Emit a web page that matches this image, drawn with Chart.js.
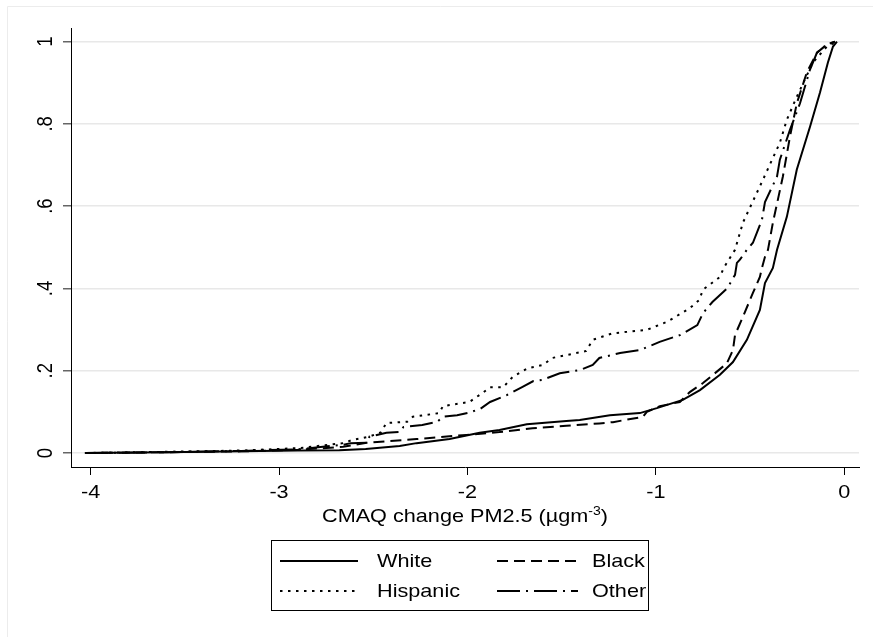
<!DOCTYPE html>
<html>
<head>
<meta charset="utf-8">
<title>CMAQ change PM2.5 by race</title>
<script src="https://cdn.jsdelivr.net/npm/chart.js@4.4.1/dist/chart.umd.min.js"></script>
<style>
  html, body { margin: 0; padding: 0; background: #fff; }
  #wrap { width: 873px; height: 637px; }
</style>
</head>
<body>
<div id="wrap"><canvas id="cdfChart" width="873" height="637"></canvas></div>
<script>
// tick values / labels
const xTicks = [-4, -3, -2, -1, 0];
const xTickLabels = ['-4', '-3', '-2', '-1', '0'];
const yTicks = [0, 0.2, 0.4, 0.6, 0.8, 1];
const yTickLabels = ['0', '.2', '.4', '.6', '.8', '1'];
const seriesNames = ['White', 'Black', 'Hispanic', 'Other'];

// cumulative share of population vs. change in PM2.5
const whiteX = [-4.03, -3.6, -3.2, -2.9, -2.68, -2.54, -2.36, -2.27, -2.095, -1.935, -1.83, -1.685, -1.475, -1.404, -1.244, -1.085, -0.995, -0.857, -0.766, -0.66, -0.591, -0.517, -0.448, -0.421, -0.379, -0.357, -0.305, -0.252, -0.182, -0.129, -0.087, -0.06, -0.039];
const whiteY = [0, 0.002, 0.004, 0.006, 0.007, 0.01, 0.017, 0.024, 0.034, 0.049, 0.056, 0.07, 0.078, 0.08, 0.092, 0.097, 0.109, 0.129, 0.153, 0.19, 0.221, 0.275, 0.348, 0.413, 0.45, 0.494, 0.574, 0.689, 0.793, 0.876, 0.949, 0.988, 1];

const blackX = [-4.03, -3.6, -3.2, -2.9, -2.66, -2.535, -2.27, -2.005, -1.83, -1.655, -1.475, -1.30, -1.228, -1.069, -1.048, -0.979, -0.873, -0.82, -0.75, -0.697, -0.623, -0.591, -0.58, -0.538, -0.485, -0.448, -0.437, -0.421, -0.405, -0.379, -0.326, -0.288, -0.252, -0.199, -0.145, -0.092, -0.05];
const blackY = [0, 0.002, 0.004, 0.008, 0.015, 0.025, 0.034, 0.044, 0.051, 0.06, 0.066, 0.072, 0.075, 0.088, 0.1, 0.114, 0.124, 0.148, 0.17, 0.19, 0.218, 0.25, 0.287, 0.331, 0.389, 0.428, 0.45, 0.477, 0.494, 0.56, 0.672, 0.77, 0.85, 0.925, 0.973, 0.993, 1];

const hispanicX = [-4.03, -3.6, -3.2, -2.89, -2.66, -2.61, -2.52, -2.46, -2.43, -2.32, -2.29, -2.15, -2.13, -1.99, -1.92, -1.88, -1.81, -1.76, -1.68, -1.60, -1.55, -1.40, -1.37, -1.335, -1.23, -1.05, -0.94, -0.82, -0.77, -0.75, -0.66, -0.64, -0.58, -0.538, -0.432, -0.342, -0.305, -0.252, -0.167, -0.092, -0.039];
const hispanicY = [0, 0.003, 0.006, 0.012, 0.024, 0.032, 0.04, 0.05, 0.073, 0.076, 0.088, 0.097, 0.114, 0.124, 0.146, 0.16, 0.16, 0.185, 0.206, 0.214, 0.231, 0.245, 0.248, 0.275, 0.291, 0.299, 0.319, 0.352, 0.372, 0.397, 0.428, 0.45, 0.494, 0.56, 0.664, 0.754, 0.81, 0.866, 0.949, 0.988, 1];

const otherX = [-4.03, -3.6, -3.2, -2.9, -2.66, -2.62, -2.53, -2.52, -2.43, -2.36, -2.34, -2.24, -2.16, -2.13, -2.055, -1.99, -1.93, -1.88, -1.79, -1.71, -1.65, -1.60, -1.51, -1.40, -1.335, -1.30, -1.19, -1.085, -0.98, -0.87, -0.78, -0.75, -0.70, -0.62, -0.58, -0.57, -0.554, -0.517, -0.485, -0.437, -0.421, -0.357, -0.342, -0.288, -0.235, -0.182, -0.145, -0.092, -0.05];
const otherY = [0, 0.002, 0.005, 0.009, 0.02, 0.024, 0.025, 0.04, 0.049, 0.051, 0.063, 0.068, 0.076, 0.088, 0.092, 0.098, 0.108, 0.124, 0.141, 0.16, 0.175, 0.178, 0.194, 0.202, 0.214, 0.231, 0.243, 0.25, 0.27, 0.287, 0.311, 0.34, 0.367, 0.401, 0.433, 0.462, 0.47, 0.494, 0.511, 0.567, 0.61, 0.672, 0.713, 0.786, 0.85, 0.932, 0.973, 0.993, 1];

const toPoints = (xs, ys) => xs.map((x, i) => ({ x: x, y: ys[i] }));

// Stata text is a bit wider than Arial, so stretch it sideways
const FONT = '18.5px "Liberation Sans", Arial, sans-serif';
const SUP_FONT = '12px "Liberation Sans", Arial, sans-serif';
const STRETCH = 1.17;

const putText = (ctx, str, x, y, align, font, rotated) => {
  ctx.save();
  ctx.translate(x, y);
  if (rotated) {
    ctx.rotate(-Math.PI / 2);
    ctx.scale(1, STRETCH);
  } else {
    ctx.scale(STRETCH, 1);
  }
  ctx.font = font || FONT;
  ctx.textAlign = align;
  ctx.textBaseline = 'alphabetic';
  ctx.fillStyle = '#000';
  ctx.fillText(str, 0, 0);
  ctx.restore();
};

const textWidth = (ctx, str, font) => {
  ctx.save();
  ctx.font = font || FONT;
  const w = ctx.measureText(str).width * STRETCH;
  ctx.restore();
  return w;
};

const stataDecor = {
  id: 'stataDecor',
  beforeDraw(chart) {
    const ctx = chart.ctx;
    ctx.save();
    ctx.fillStyle = '#fff';
    ctx.fillRect(0, 0, chart.width, chart.height);
    // graph region frame
    ctx.strokeStyle = '#ececec';
    ctx.lineWidth = 1;
    ctx.beginPath();
    ctx.moveTo(7.5, chart.height);
    ctx.lineTo(7.5, 6.5);
    ctx.lineTo(chart.width, 6.5);
    ctx.stroke();
    ctx.restore();
  },
  afterDraw(chart) {
    const ctx = chart.ctx;
    const xs = chart.scales.x;
    const ys = chart.scales.y;

    // tick labels
    yTicks.forEach((v, i) => putText(ctx, yTickLabels[i], 52, ys.getPixelForValue(v), 'center', FONT, true));
    xTicks.forEach((v, i) => putText(ctx, xTickLabels[i], xs.getPixelForValue(v), 498, 'center'));

    // axis title with superscript
    const main = 'CMAQ change PM2.5 (\u00b5gm';
    const sup = '-3';
    const close = ')';
    const wMain = textWidth(ctx, main);
    const wSup = textWidth(ctx, sup, SUP_FONT);
    const wClose = textWidth(ctx, close);
    const cx = (chart.chartArea.left + chart.chartArea.right) / 2;
    let tx = cx - (wMain + wSup + wClose) / 2;
    putText(ctx, main, tx, 522, 'left');
    tx += wMain;
    putText(ctx, sup, tx, 515, 'left', SUP_FONT);
    tx += wSup;
    putText(ctx, close, tx, 522, 'left');

    // legend
    ctx.save();
    ctx.strokeStyle = '#000';
    ctx.lineWidth = 1;
    ctx.strokeRect(271.5, 540.5, 377, 70);
    ctx.restore();

    const colLine = [[280, 358], [497, 578]];
    const colText = [377, 592];
    const rowY = [561, 591];
    chart.data.datasets.forEach((ds, i) => {
      const col = i % 2;
      const row = Math.floor(i / 2);
      ctx.save();
      ctx.strokeStyle = ds.borderColor;
      ctx.lineWidth = ds.borderWidth;
      ctx.setLineDash(ds.borderDash || []);
      ctx.beginPath();
      ctx.moveTo(colLine[col][0], rowY[row]);
      ctx.lineTo(colLine[col][1], rowY[row]);
      ctx.stroke();
      ctx.restore();
      putText(ctx, ds.label, colText[col], rowY[row] + 6, 'left');
    });
  }
};

const ctx = document.getElementById('cdfChart');

const cdfChart = new Chart(ctx, {
  type: 'line',
  data: {
    datasets: [
      { label: seriesNames[0], data: toPoints(whiteX, whiteY), borderDash: [] },
      { label: seriesNames[1], data: toPoints(blackX, blackY), borderDash: [11, 6] },
      { label: seriesNames[2], data: toPoints(hispanicX, hispanicY), borderDash: [2.5, 5.5] },
      { label: seriesNames[3], data: toPoints(otherX, otherY), borderDash: [23, 6, 2, 6] }
    ].map(ds => Object.assign(ds, {
      borderColor: '#000',
      borderWidth: 2,
      pointRadius: 0,
      tension: 0,
      fill: false
    }))
  },
  options: {
    responsive: false,
    animation: false,
    events: [],
    layout: { padding: { top: 28, right: 14, bottom: 0, left: 0 } },
    plugins: {
      legend: { display: false },
      tooltip: { enabled: false }
    },
    scales: {
      x: {
        type: 'linear',
        min: -4.104,
        max: 0.078,
        afterBuildTicks: s => { s.ticks = xTicks.map(v => ({ value: v })); },
        afterFit: s => { s.height = 170; },
        ticks: { display: false },
        grid: { drawOnChartArea: false, drawTicks: true, tickLength: 8, tickColor: '#000', tickWidth: 1 },
        border: { display: true, color: '#000', width: 1 }
      },
      y: {
        type: 'linear',
        min: -0.034,
        max: 1.033,
        afterBuildTicks: s => { s.ticks = yTicks.map(v => ({ value: v })); },
        afterFit: s => { s.width = 71; },
        ticks: { display: false },
        grid: { color: '#e8e8e8', lineWidth: 1.5, drawTicks: true, tickLength: 8, tickColor: '#666', tickWidth: 1.5 },
        border: { display: true, color: '#000', width: 1 }
      }
    }
  },
  plugins: [stataDecor]
});
</script>
</body>
</html>
